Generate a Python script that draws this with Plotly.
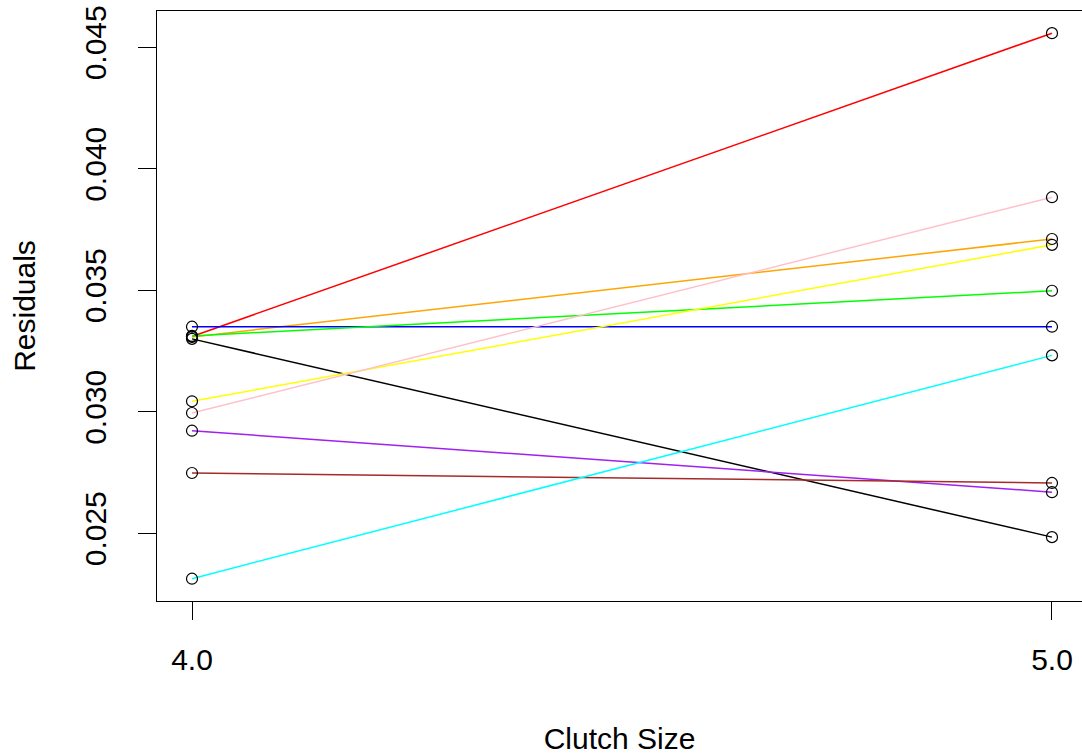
import plotly.graph_objects as go

# Clutch sizes on the x axis
clutch_size = [4, 5]

# Residuals per group at clutch size 4 and 5
resid_red = [0.03310, 0.04558]
resid_pink = [0.02995, 0.03883]
resid_orange = [0.03308, 0.03711]
resid_yellow = [0.03043, 0.03687]
resid_green = [0.03312, 0.03498]
resid_blue = [0.03350, 0.03350]
resid_cyan = [0.02313, 0.03232]
resid_brown = [0.02748, 0.02707]
resid_purple = [0.02922, 0.02669]
resid_black = [0.03300, 0.02484]

x_tick_vals = [4, 5]
x_tick_text = ["4.0", "5.0"]
y_tick_vals = [0.025, 0.030, 0.035, 0.040, 0.045]
y_tick_text = ["0.025", "0.030", "0.035", "0.040", "0.045"]

groups = [
    (resid_black, "#000000"),
    (resid_red, "#FF0000"),
    (resid_orange, "#FFA500"),
    (resid_blue, "#0000FF"),
    (resid_green, "#00FF00"),
    (resid_yellow, "#FFFF00"),
    (resid_pink, "#FFC0CB"),
    (resid_purple, "#A020F0"),
    (resid_brown, "#A52A2A"),
    (resid_cyan, "#00FFFF"),
]

FONT = "Liberation Sans, Arial, sans-serif"

fig = go.Figure()
for values, colour in groups:
    fig.add_trace(go.Scatter(
        x=clutch_size, y=values, mode="lines",
        line=dict(color=colour, width=1.5),
        showlegend=False, hoverinfo="skip",
    ))
for values, colour in groups:
    fig.add_trace(go.Scatter(
        x=clutch_size, y=values, mode="markers",
        marker=dict(symbol="circle-open", size=11, color="#000000",
                    line=dict(color="#000000", width=1.2)),
        showlegend=False, hoverinfo="skip",
    ))

fig.update_layout(
    width=1082, height=755,
    margin=dict(l=157, r=0, t=11, b=153.5, pad=0),
    paper_bgcolor="white", plot_bgcolor="white",
    font=dict(family=FONT, size=30, color="#000000"),
    xaxis=dict(
        range=[3.9593, 5.0349], tickvals=x_tick_vals, ticktext=x_tick_text,
        showgrid=False, zeroline=False,
        showline=True, mirror=True, linecolor="#000000", linewidth=1.3,
        ticks="outside", ticklen=18, tickwidth=1.3, tickcolor="#000000",
        tickfont=dict(family=FONT, size=30, color="#000000"),
        ticklabelstandoff=14,
        title=dict(text="Clutch Size", font=dict(family=FONT, size=30),
                   standoff=52),
    ),
    yaxis=dict(
        range=[0.022212, 0.046493], tickvals=y_tick_vals, ticktext=y_tick_text,
        showgrid=False, zeroline=False,
        showline=True, linecolor="#000000", linewidth=1.3,
        ticks="outside", ticklen=18, tickwidth=1.3, tickcolor="#000000",
        tickangle=-90,
        tickfont=dict(family=FONT, size=30, color="#000000"),
        ticklabelstandoff=20,
        title=dict(text="Residuals", font=dict(family=FONT, size=30),
                   standoff=34),
    ),
)

fig.write_html("out.html")
